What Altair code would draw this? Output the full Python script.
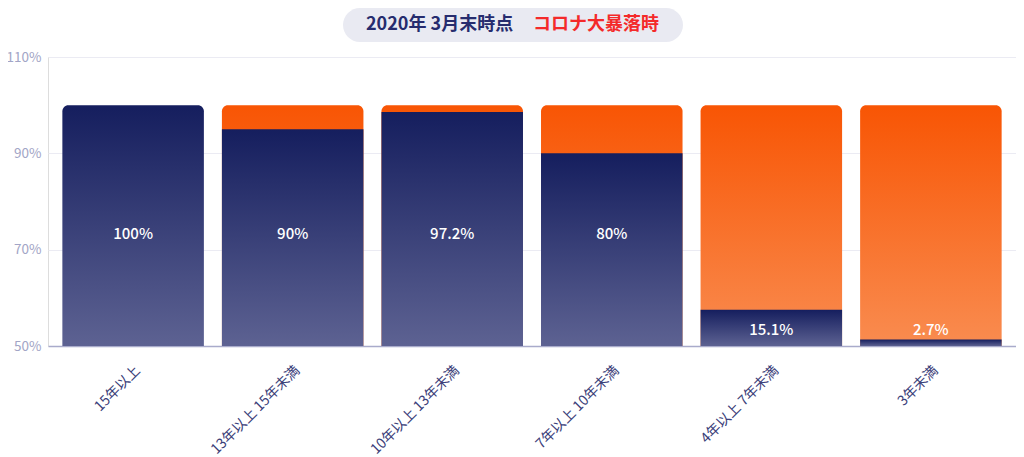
import altair as alt
import pandas as pd

categories = ["15年以上", "13年以上 15年未満", "10年以上 13年未満", "7年以上 10年未満", "4年以上 7年未満", "3年未満"]
values = [100, 90, 97.2, 80, 15.1, 2.7]
title_parts = ["2020年 3月末時点", "コロナ大暴落時"]
y_ticks = [0, 40, 80, 120]

FONT = "Noto Sans CJK JP"
NAVY_TOP = "#151e5e"
NAVY_BOT = "#5d6292"
ORANGE_TOP = "#f85504"
ORANGE_BOT = "#f98c50"

df = pd.DataFrame({"category": categories, "value": values})

navy_grad = alt.Gradient(
    gradient="linear",
    stops=[alt.GradientStop(color=NAVY_TOP, offset=0), alt.GradientStop(color=NAVY_BOT, offset=1)],
    x1=0, x2=0, y1=0, y2=1,
)
orange_grad = alt.Gradient(
    gradient="linear",
    stops=[alt.GradientStop(color=ORANGE_TOP, offset=0), alt.GradientStop(color=ORANGE_BOT, offset=1)],
    x1=0, x2=0, y1=0, y2=1,
)

x_enc = alt.X(
    "category:N",
    sort=categories,
    title=None,
    scale=alt.Scale(paddingInner=0.113, paddingOuter=0.09),
    axis=alt.Axis(
        labelAngle=-45,
        labelAlign="right",
        labelBaseline="top",
        labelFont=FONT,
        labelFontSize=14,
        labelColor="#3b4079",
        labelPadding=17,
        labelOffset=0,
        ticks=False,
        domain=True,
        domainColor="#a9abcb",
        domainWidth=1.5,
        grid=False,
        labelLimit=300,
    ),
)

y_scale = alt.Scale(domain=[0, 120], nice=False, zero=True)
y_axis = alt.Axis(
    values=y_ticks,
    labelExpr="(50 + datum.value / 2) + '%'",
    labelFont=FONT,
    labelFontSize=13.5,
    labelColor="#a2a5c6",
    labelPadding=7,
    ticks=False,
    domain=False,
    grid=True,
    gridColor="#ebebf3",
    gridWidth=1,
    title=None,
)

base = alt.Chart(df)

orange = base.mark_bar(
    fill=orange_grad, cornerRadiusTopLeft=6, cornerRadiusTopRight=6
).transform_filter("datum.value < 100").transform_calculate(full="100", zero="0").encode(
    x=x_enc,
    y=alt.Y("full:Q", scale=y_scale, axis=y_axis),
    y2=alt.Y2("zero:Q"),
)

navy_full = base.mark_bar(
    fill=navy_grad, cornerRadiusTopLeft=6, cornerRadiusTopRight=6
).transform_filter("datum.value >= 100").transform_calculate(zero="0").encode(
    x=x_enc,
    y=alt.Y("value:Q", scale=y_scale, axis=y_axis),
    y2=alt.Y2("zero:Q"),
)

navy_part = base.mark_bar(fill=navy_grad).transform_filter("datum.value < 100").transform_calculate(
    zero="0"
).encode(
    x=x_enc,
    y=alt.Y("value:Q", scale=y_scale, axis=y_axis),
    y2=alt.Y2("zero:Q"),
)

labels = base.mark_text(
    font=FONT, fontSize=15, fontWeight=500, color="white", baseline="middle", align="center"
).transform_calculate(
    label_y="datum.value >= 50 ? 46.5 : max(datum.value * 0.38, 6.6)",
    label="datum.value + '%'",
).encode(
    x=x_enc,
    y=alt.Y("label_y:Q", scale=y_scale, axis=y_axis),
    text="label:N",
)

title_df = pd.DataFrame({"a": [title_parts[0]], "b": [title_parts[1]]})
pill = alt.Chart(title_df).mark_rect(color="#e9eaf2", cornerRadius=17).encode(
    x=alt.value(295), x2=alt.value(635), y=alt.value(-49), y2=alt.value(-15)
)
t1 = alt.Chart(title_df).mark_text(
    font=FONT, fontSize=18, fontWeight="bold", color="#262c6e", align="left", baseline="middle"
).encode(x=alt.value(318), y=alt.value(-32), text="a:N")
t2 = alt.Chart(title_df).mark_text(
    font=FONT, fontSize=18, fontWeight="bold", color="#f42a2a", align="left", baseline="middle"
).encode(x=alt.value(485), y=alt.value(-32), text="b:N")

chart = (
    alt.layer(orange, navy_full, navy_part, labels, pill, t1, t2)
    .properties(
        width=968,
        height=289,
        autosize=alt.AutoSizeParams(type="none"),
        padding={"left": 40, "top": 49, "right": 0, "bottom": 111},
    )
    .configure_view(stroke=None)
    .configure(background="white")
)

chart.save("out.html", embed_options={"renderer": "svg", "actions": False})
